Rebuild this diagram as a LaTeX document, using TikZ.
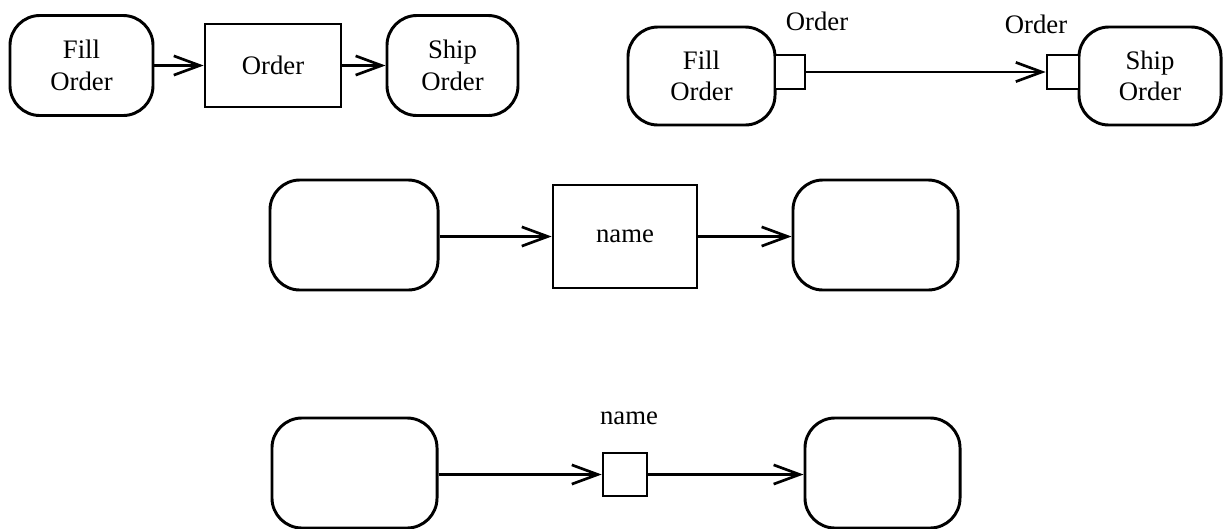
\documentclass[tikz,border=0pt]{standalone}
\usepackage{fontspec}
\setmainfont{Liberation Serif}
\usetikzlibrary{arrows.meta}
\usetikzlibrary{positioning}
\tikzset{
  act/.style = {draw=black, line width=2.1pt, rounded corners=0.75cm,
    align=center, inner sep=0pt, font=\fontsize{19}{22.5}\selectfont},% activity
  obj/.style = {draw=black, line width=1.9pt, rectangle, inner sep=0pt,
    font=\fontsize{19}{22.5}\selectfont},% object node
  pin/.style = {draw=black, line width=1.9pt, rectangle, fill=white,
    inner sep=0pt},% pin
  lbl/.style = {inner sep=0pt, font=\fontsize{19}{22.5}\selectfont},% pin label
  flow/.style = {line width=1.9pt, -{Straight Barb[length=6.5mm,width=4.8mm,line width=1.9pt]}}
}
\begin{document}
\begin{tikzpicture}[x=0.025cm,y=-0.025cm]
\useasboundingbox (0,0) rectangle (1223,528);
% top left
\node [act, minimum width=3.575cm, minimum height=2.5cm] (fillA) at (81.5,65.5) {Fill\\Order};
\node [obj, minimum width=3.4cm, minimum height=2.075cm] (orderA) at (273,65.5) {Order};
\node [act, minimum width=3.275cm, minimum height=2.5cm] (shipA) at (452.5,65.5) {Ship\\Order};
\draw [flow] (fillA) -- (orderA);
\draw [flow] (orderA) -- (shipA);
% top right
\node [act, minimum width=3.675cm, minimum height=2.45cm] (fillB) at (701.5,76) {Fill\\Order};
\node [act, minimum width=3.55cm, minimum height=2.45cm] (shipB) at (1150,76) {Ship\\Order};
\node [pin, minimum width=0.75cm, minimum height=0.85cm] (outB) at (790,72) {};
\node [pin, minimum width=0.8cm, minimum height=0.85cm] (inB) at (1063,72) {};
\node [lbl] at (817,21) {Order};
\node [lbl] at (1036,24) {Order};
\draw [flow] (outB) -- (inB);
% middle
\node [act, minimum width=4.2cm, minimum height=2.75cm] (srcC) at (354,235) {};
\node [obj, minimum width=3.6cm, minimum height=2.575cm] (objC) at (625,236.5) {name};
\node [act, minimum width=4.125cm, minimum height=2.75cm] (dstC) at (875.5,235) {};
\draw [flow] (srcC.east |- objC) -- (objC);
\draw [flow] (objC) -- (dstC.west |- objC);
% bottom
\node [act, minimum width=4.125cm, minimum height=2.75cm] (srcD) at (354.5,473) {};
\node [pin, minimum width=1.1cm, minimum height=1.075cm] (pinD) at (625,474.5) {};
\node [act, minimum width=3.875cm, minimum height=2.75cm] (dstD) at (882.5,473) {};
\node [lbl] at (629,418) {name};
\draw [flow] (srcD.east |- pinD) -- (pinD);
\draw [flow] (pinD) -- (dstD.west |- pinD);
\end{tikzpicture}
\end{document}
